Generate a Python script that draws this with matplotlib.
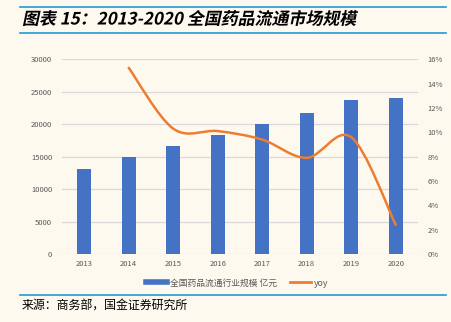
import matplotlib.pyplot as plt
from matplotlib.path import Path
from matplotlib.patches import PathPatch
from matplotlib.lines import Line2D
from matplotlib.ticker import FuncFormatter
from matplotlib.textpath import TextPath
from matplotlib.font_manager import FontProperties
from matplotlib.transforms import Affine2D

plt.rcParams['font.family'] = ['Noto Sans CJK SC', 'DejaVu Sans']

# data
years = ['2013', '2014', '2015', '2016', '2017', '2018', '2019', '2020']
scale = [13050, 15000, 16600, 18300, 20100, 21700, 23800, 24100]   # 亿元
yoy_years = ['2014', '2015', '2016', '2017', '2018', '2019', '2020']
yoy = [15.3, 10.3, 10.1, 9.4, 7.9, 9.6, 2.4]                        # %

bg = '#FEF9EF'
blue = '#4472C4'
orange = '#ED7D31'
grey = '#595959'

fig = plt.figure(figsize=(4.52, 3.22), dpi=100, facecolor=bg)
ax = fig.add_axes([62 / 452, 68 / 322, 356 / 452, 194.7 / 322])
ax.set_facecolor(bg)

x = list(range(len(years)))
ax.bar(x, scale, width=0.31, color=blue, zorder=2)
ax.set_xlim(-0.5, len(years) - 0.5)
ax.set_ylim(0, 30000)
ax.set_yticks(range(0, 30001, 5000))
ax.set_xticks(x)
ax.set_xticklabels(years)
ax.grid(axis='y', color='#D9D9D9', linewidth=0.9, zorder=0)
for s in ax.spines.values():
    s.set_visible(False)
ax.tick_params(length=0, labelsize=5.5, labelcolor=grey)
ax.tick_params(axis='y', pad=7)
ax.tick_params(axis='x', pad=4)

ax2 = ax.twinx()
ax2.set_ylim(0, 16)
ax2.set_yticks(range(0, 17, 2))
ax2.yaxis.set_major_formatter(FuncFormatter(lambda v, p: '%d%%' % v))
for s in ax2.spines.values():
    s.set_visible(False)
ax2.tick_params(length=0, labelsize=5.5, labelcolor=grey, pad=7)

# smooth line (Catmull-Rom as bezier segments, like the office chart)
px = [years.index(y) for y in yoy_years]
pts = list(zip(px, yoy))
pp = [pts[0]] + pts + [pts[-1]]
verts = [pts[0]]
codes = [Path.MOVETO]
for i in range(1, len(pp) - 2):
    p0, p1, p2, p3 = pp[i - 1], pp[i], pp[i + 1], pp[i + 2]
    c1 = (p1[0] + (p2[0] - p0[0]) / 6, p1[1] + (p2[1] - p0[1]) / 6)
    c2 = (p2[0] - (p3[0] - p1[0]) / 6, p2[1] - (p3[1] - p1[1]) / 6)
    verts += [c1, c2, p2]
    codes += [Path.CURVE4] * 3
ax2.add_patch(PathPatch(Path(verts, codes), facecolor='none', edgecolor=orange,
                        linewidth=1.8, capstyle='round', zorder=3))

# legend
handles = [Line2D([0], [0], color=blue, linewidth=4),
           Line2D([0], [0], color=orange, linewidth=2)]
fig.legend(handles, ['全国药品流通行业规模 亿元', 'yoy'], loc='center',
           bbox_to_anchor=(237 / 452, 1 - 283 / 322), ncol=2, frameon=False,
           fontsize=6.3, labelcolor=grey, handlelength=2.4, columnspacing=1.5,
           handletextpad=0.35)

# title, rules and source
for yy in (7, 32.5, 294.5):
    fig.add_artist(Line2D([20 / 452, 446 / 452], [1 - yy / 322] * 2,
                          color='#1E9BD7', linewidth=1.2))

# title is bold italic: draw it as a sheared text path (CJK font has no italic)
title = '图表 15：2013-2020 全国药品流通市场规模'
tp = TextPath((0, 0), title, size=12.2,
              prop=FontProperties(family='Noto Sans CJK SC', weight='bold'))
tr = (Affine2D().scale(1 / 72).skew_deg(12, 0)
      .translate(22 / 100, (322 - 24.5) / 100) + fig.dpi_scale_trans)
fig.add_artist(PathPatch(tp, transform=tr, facecolor='black', edgecolor='none'))

fig.text(22 / 452, 1 - 306 / 322, '来源：商务部，国金证券研究所',
         fontsize=8.6, va='center', ha='left', color='black')

fig.savefig('out.png', dpi=100, facecolor=bg)
